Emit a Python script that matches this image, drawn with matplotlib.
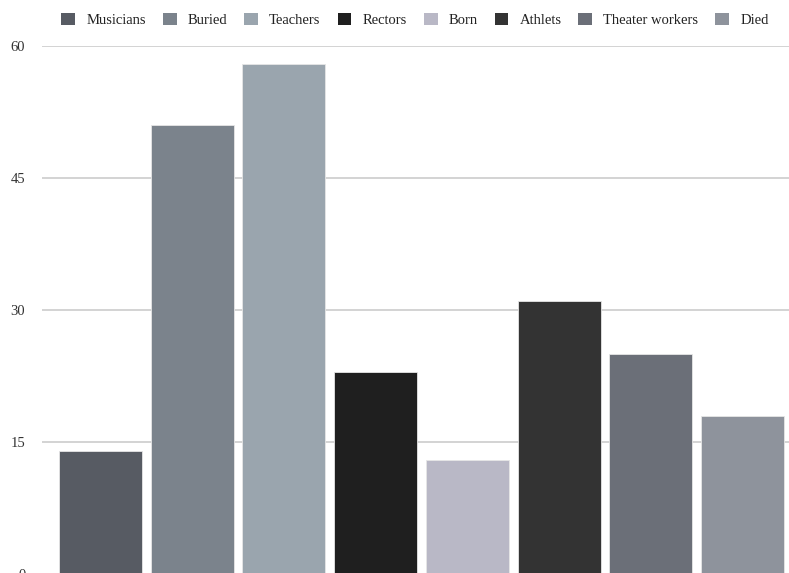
import matplotlib
matplotlib.use("Agg")
import matplotlib.pyplot as plt
from matplotlib.patches import Patch

# Category counts, one series per bar
categories = ["Musicians", "Buried", "Teachers", "Rectors", "Born",
              "Athlets", "Theater workers", "Died"]
counts = [14, 51, 58, 23, 13, 31, 25, 18]
colors = ["#575b63", "#7b838c", "#9aa5ae", "#1f1f1f", "#b9b8c6",
          "#333333", "#6b6f78", "#8e939c"]
y_ticks = [0, 15, 30, 45, 60]

plt.rcParams["font.family"] = ["Liberation Serif", "DejaVu Serif"]

W, H = 789, 573
fig = plt.figure(figsize=(W / 100, H / 100), dpi=100)
fig.patch.set_facecolor("white")

# Plot area: left edge at 42 px, top at 46 px, zero line just below the image
left, right, top, bottom = 42, 789, 46, 574
ax = fig.add_axes([left / W, 1 - bottom / H, (right - left) / W, (bottom - top) / H])
ax.set_facecolor("white")

positions = range(len(categories))
for pos, value, color in zip(positions, counts, colors):
    ax.bar(pos, value, width=0.905, color=color, edgecolor="#e6e6e6",
           linewidth=0.6, zorder=3)

ax.set_xlim(-0.638, 7.508)
ax.set_ylim(0, 60)
ax.set_yticks(y_ticks)
ax.set_xticks([])
ax.yaxis.grid(True, color="#cccccc", linewidth=1.2, zorder=0)
ax.tick_params(axis="y", length=0, pad=12, labelsize=10.5, labelcolor="#333333")
for label in ax.get_yticklabels():
    label.set_clip_on(False)
for spine in ax.spines.values():
    spine.set_visible(False)

# Legend row across the top
handles = [Patch(facecolor=c, edgecolor="none") for c in colors]
fig.legend(handles, categories, loc="center", bbox_to_anchor=(415 / W, 1 - 20 / H),
           ncol=len(categories), frameon=False, fontsize=10.5,
           handlelength=0.95, handleheight=0.95, handletextpad=0.75,
           columnspacing=1.17, labelcolor="#222222")

fig.savefig("out.png", dpi=100, facecolor="white")
